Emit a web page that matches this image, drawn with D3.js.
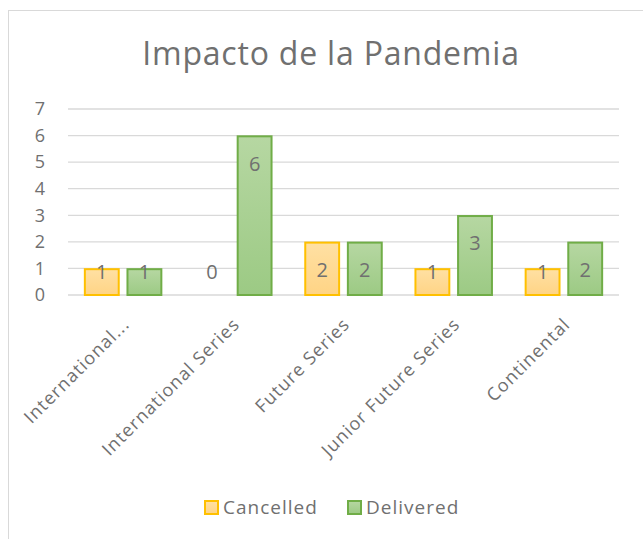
<!DOCTYPE html>
<html lang="es">
<head>
  <meta charset="UTF-8">
  <title>Impacto de la Pandemia</title>
  <script src="https://d3js.org/d3.v7.min.js"></script>
  <style>
    body { margin: 0; background: #fff; }
    text { font-family: "Open Sans", "Liberation Sans", sans-serif; fill: #707070; }
  </style>
</head>
<body>
  <svg id="chart" width="643" height="539"></svg>
  <script>
    // data
    const categories = ["International...", "International Series", "Future Series", "Junior Future Series", "Continental"];
    const series = ["Cancelled", "Delivered"];
    const cancelled = [1, 0, 2, 1, 1];
    const delivered = [1, 6, 2, 3, 2];
    const yTicks = [0, 1, 2, 3, 4, 5, 6, 7];

    const svg = d3.select("#chart");

    const margin = { left: 68, right: 24, top: 109, bottom: 244 };
    const W = 643, H = 539;

    // chart border
    svg.append("rect")
      .attr("x", 8.5).attr("y", 10.5)
      .attr("width", 640).attr("height", 540)
      .attr("fill", "#fff").attr("stroke", "#d9d9d9").attr("stroke-width", 1);

    const defs = svg.append("defs");
    const grad = (id, top, bottom) => {
      const g = defs.append("linearGradient").attr("id", id)
        .attr("x1", 0).attr("y1", 0).attr("x2", 0).attr("y2", 1);
      g.append("stop").attr("offset", "0%").attr("stop-color", top);
      g.append("stop").attr("offset", "100%").attr("stop-color", bottom);
    };
    grad("gCanc", "#ffe0a3", "#ffd485");
    grad("gDel", "#b6d7a2", "#9cca84");

    const colors = {
      Cancelled: { fill: "url(#gCanc)", stroke: "#ffc000" },
      Delivered: { fill: "url(#gDel)", stroke: "#70ad47" }
    };

    const x = d3.scaleBand().domain(categories).range([margin.left, W - margin.right]);
    const x1 = d3.scaleBand().domain(series).range([-21.5 - 17.5, 21.5 + 17.5]).paddingInner(0.17);
    const y = d3.scaleLinear().domain([0, 7]).range([H - margin.bottom, margin.top]);

    // title
    svg.append("text")
      .attr("x", 331).attr("y", 65)
      .attr("text-anchor", "middle")
      .attr("font-size", 32)
      .attr("letter-spacing", 0.8)
      .text("Impacto de la Pandemia");

    // gridlines
    svg.append("g")
      .selectAll("line")
      .data(yTicks)
      .join("line")
      .attr("x1", margin.left).attr("x2", W - margin.right)
      .attr("y1", d => y(d)).attr("y2", d => y(d))
      .attr("stroke", "#d9d9d9").attr("stroke-width", 1.3);

    // y axis labels
    const yAxis = svg.append("g")
      .attr("transform", "translate(40,0)")
      .call(d3.axisLeft(y).tickValues(yTicks).tickFormat(d3.format("d")).tickSize(0).tickPadding(0));
    yAxis.select(".domain").remove();
    yAxis.selectAll("text")
      .attr("font-size", 18).attr("fill", "#707070")
      .attr("font-family", "'Open Sans', sans-serif")
      .attr("text-anchor", "middle");

    // bars
    const rows = categories.map((c, i) => ({ cat: c, vals: [
      { s: "Cancelled", v: cancelled[i] },
      { s: "Delivered", v: delivered[i] }
    ]}));

    const groups = svg.append("g").selectAll("g")
      .data(rows)
      .join("g")
      .attr("transform", d => `translate(${x(d.cat) + x.bandwidth() / 2},0)`);

    groups.selectAll("rect")
      .data(d => d.vals.filter(e => e.v > 0))
      .join("rect")
      .attr("x", d => x1(d.s) + 0.75)
      .attr("width", x1.bandwidth() - 1.5)
      .attr("y", d => y(d.v) + 0.75)
      .attr("height", d => y(0) - y(d.v) - 0.75)
      .attr("fill", d => colors[d.s].fill)
      .attr("stroke", d => colors[d.s].stroke)
      .attr("stroke-width", 2);

    // data labels
    groups.selectAll("text.val")
      .data(d => d.vals)
      .join("text")
      .attr("class", "val")
      .attr("x", d => x1(d.s) + x1.bandwidth() / 2)
      .attr("y", d => Math.min(y(d.v) + 28, y(0) - 23))
      .attr("dy", "0.35em")
      .attr("text-anchor", "middle")
      .attr("font-size", 20)
      .text(d => d.v);

    // x axis labels
    const xAxis = svg.append("g")
      .attr("transform", `translate(0,${y(0)})`)
      .call(d3.axisBottom(x).tickSize(0).tickPadding(0));
    xAxis.select(".domain").remove();
    xAxis.selectAll("text")
      .attr("font-size", 18).attr("fill", "#707070")
      .attr("font-family", "'Open Sans', sans-serif")
      .attr("letter-spacing", 1.1)
      .attr("text-anchor", "end")
      .attr("y", 0)
      .attr("dy", "0.35em")
      .attr("transform", "translate(3,26) rotate(-45)");

    // legend
    const legend = svg.append("g").attr("transform", "translate(204,507)");
    const items = legend.selectAll("g")
      .data(series)
      .join("g")
      .attr("transform", (d, i) => `translate(${i * 143},0)`);
    items.append("rect")
      .attr("x", 1).attr("y", -6).attr("width", 13).attr("height", 13)
      .attr("fill", d => colors[d].fill)
      .attr("stroke", d => colors[d].stroke).attr("stroke-width", 2);
    items.append("text")
      .attr("x", 19).attr("y", 0).attr("dy", "0.35em")
      .attr("font-size", 19)
      .attr("letter-spacing", 1)
      .text(d => d);
  </script>
</body>
</html>
